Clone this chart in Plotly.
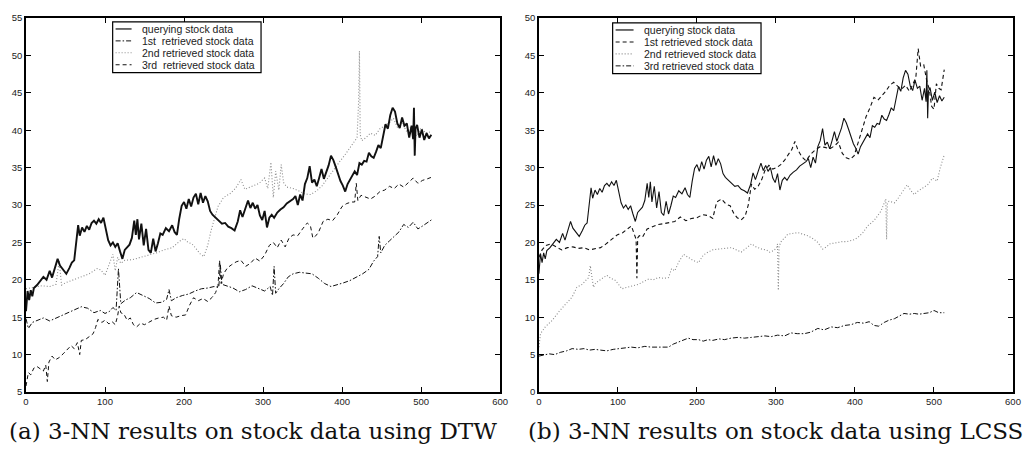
import plotly.graph_objects as go

# ---------------- data ----------------
# querying stock series (same series in both panels)
query_x = [0, 2, 4, 6, 8, 10, 14, 18, 22, 26, 30, 33, 36, 40, 43, 47, 51, 55, 58, 61,
           64, 66, 68, 71, 74, 77, 80, 83, 86, 89, 92, 95, 98, 101, 104, 107, 110, 113, 116, 119,
           122, 125, 128, 131, 134, 137, 139, 141, 143, 146, 149, 152, 155, 158, 161, 164, 167, 170, 173, 177,
           181, 185, 188, 191, 194, 197, 200, 203, 206, 209, 212, 215, 218, 221, 224, 227, 230, 233, 236, 240,
           244, 248, 252, 256, 260, 264, 268, 271, 274, 278, 281, 284, 287, 290, 293, 296, 299, 302, 305, 308,
           311, 314, 318, 322, 326, 330, 334, 338, 341, 344, 347, 350, 353, 356, 359, 362, 365, 368, 371, 374,
           377, 380, 383, 386, 389, 392, 395, 398, 401, 404, 407, 410, 413, 416, 419, 422, 425, 428, 431, 434,
           437, 440, 443, 446, 449, 452, 455, 458, 461, 464, 467, 470, 473, 476, 479, 482, 485, 488, 490, 491,
           492, 493, 495, 498, 501, 504, 507, 510, 513]
query_y = [15.8, 18.5, 17.3, 18.6, 17.8, 18.9, 19.3, 19.8, 20.4, 20.0, 21.2, 20.3, 21.5, 22.8, 21.9, 21.3, 20.8, 21.6, 22.3, 22.6,
           25.5, 27.3, 25.9, 27.0, 26.4, 27.2, 26.7, 27.6, 27.9, 27.5, 28.1, 27.6, 28.3, 26.9, 25.3, 24.6, 25.0, 24.4, 24.9, 23.8,
           22.8, 24.0, 24.3, 24.7, 25.6, 27.9, 26.0, 28.1, 25.4, 27.5, 24.6, 26.8, 24.0, 23.6, 25.5, 23.8, 24.9, 26.2, 26.0, 26.9,
           26.5, 27.3, 26.4, 26.0, 28.2, 29.9, 30.4, 29.5, 30.8, 29.8, 31.0, 31.5, 30.1, 31.6, 30.3, 31.2, 30.5, 29.2, 28.7, 28.3,
           27.9, 27.5, 27.6, 27.1, 26.9, 26.6, 27.8, 29.3, 28.4, 29.8, 30.6, 29.6, 30.3, 29.5, 30.0, 28.6, 28.0, 29.2, 27.0, 28.3,
           28.7, 28.3, 29.0, 29.4, 29.7, 30.2, 30.5, 30.8, 31.2, 30.0, 31.4, 30.6, 32.8, 33.6, 35.2, 33.0, 33.4, 32.5, 33.6, 34.8,
           33.5, 34.4, 35.3, 36.6, 36.0, 35.1, 34.0, 33.2, 32.6, 31.8, 32.8, 33.4, 33.8, 34.5, 34.0, 35.6, 35.4, 35.9, 35.8, 37.0,
           36.5, 36.3, 37.1, 38.0, 37.6, 39.0, 40.8, 40.2, 42.0, 43.0, 42.5, 40.9, 40.3, 41.7, 40.6, 40.9, 39.0, 40.6, 38.8, 43.0,
           36.6, 40.2, 40.7, 39.0, 40.1, 38.7, 39.6, 38.9, 39.4]

# DTW panel: 1st retrieved (dash-dot)
dtw_first_x = [0, 3, 8, 15, 22, 30, 40, 50, 60, 70, 78, 86, 94, 100, 106, 110, 114, 117, 120, 126,
               132, 140, 148, 156, 164, 172, 178, 181, 184, 190, 198, 206, 214, 222, 230, 238, 244, 246, 248, 254,
               262, 270, 278, 286, 294, 302, 309, 312, 314, 316, 320, 326, 332, 338, 346, 354, 362, 370, 378, 386,
               394, 402, 410, 418, 426, 434, 440, 445, 447, 449, 454, 460, 466, 472, 478, 484, 490, 496, 502, 508, 513]
dtw_first_y = [14.8, 13.5, 14.3, 14.6, 14.9, 14.5, 15.0, 15.4, 16.0, 16.4, 16.2, 15.6, 15.9, 15.5, 15.8, 16.3, 15.9, 21.5, 16.8, 17.3,
               17.6, 18.3, 17.9, 17.5, 16.9, 17.0, 17.4, 18.7, 17.2, 17.6, 17.9, 18.1, 18.5, 18.8, 18.9, 19.1, 19.0, 22.0, 19.4, 19.2,
               18.9, 18.4, 18.7, 19.2, 18.9, 18.5, 19.1, 17.9, 21.8, 18.2, 18.8, 19.5, 20.4, 20.8, 21.0, 20.9, 20.8, 20.2, 19.5, 19.1,
               19.3, 19.6, 19.9, 20.3, 20.8, 21.4, 22.5, 23.1, 25.8, 23.6, 24.6, 25.2, 25.8, 26.4, 27.4, 27.0, 27.7, 26.8, 27.2, 27.6, 28.0]

# DTW panel: 2nd retrieved (dotted)
dtw_second_x = [0, 10, 20, 30, 38, 42, 45, 50, 60, 70, 80, 90, 95, 100, 105, 110, 113, 116, 120, 125,
                135, 145, 155, 165, 175, 185, 195, 200, 205, 210, 215, 220, 225, 230, 234, 238, 243, 250, 258, 265,
                272, 277, 282, 288, 295, 302, 306, 310, 313, 316, 320, 323, 326, 330, 338, 345, 352, 360, 368, 375,
                383, 390, 397, 403, 410, 415, 419, 421, 422, 423, 425, 430, 436, 442, 448, 454, 460, 465, 470, 476,
                482, 488, 494, 500, 506, 513]
dtw_second_y = [18.8, 19.0, 19.2, 19.1, 19.4, 22.5, 19.3, 19.6, 20.0, 20.4, 20.8, 21.5, 21.3, 20.6, 22.0, 23.4, 21.2, 23.0, 22.2, 22.6,
                22.7, 23.0, 23.2, 23.6, 24.0, 24.3, 25.2, 25.5, 25.0, 24.8, 24.2, 23.5, 23.1, 24.6, 26.5, 28.0, 29.8, 31.0, 31.5, 32.2,
                33.4, 32.1, 32.3, 32.6, 32.9, 33.6, 32.2, 35.7, 31.0, 34.5, 32.0, 35.4, 33.0, 32.4, 32.2, 31.9, 31.5, 31.4, 31.9, 32.6,
                33.8, 34.8, 35.8, 36.6, 37.6, 38.4, 39.0, 44.0, 50.6, 39.4, 38.6, 39.0, 39.6, 39.3, 40.2, 40.6, 41.0, 41.6, 40.4, 40.9,
                39.8, 40.5, 39.2, 40.3, 39.6, 39.8]

# DTW panel: 3rd retrieved (dashed)
dtw_third_x = [0, 3, 6, 10, 14, 18, 22, 25, 27, 29, 33, 37, 42, 47, 52, 57, 61, 65, 68, 70,
               75, 80, 85, 88, 91, 96, 100, 105, 109, 113, 116, 118, 120, 124, 128, 132, 136, 140, 145, 150,
               156, 162, 168, 174, 178, 181, 184, 190, 196, 202, 207, 212, 218, 224, 230, 236, 240, 243, 245, 247,
               250, 255, 260, 266, 272, 278, 284, 290, 296, 302, 308, 313, 318, 323, 328, 333, 338, 344, 350, 356,
               360, 363, 366, 370, 376, 382, 388, 394, 400, 406, 412, 416, 418, 420, 424, 430, 436, 442, 448, 454,
               460, 466, 472, 478, 484, 490, 496, 502, 508, 513]
dtw_third_y = [5.8, 7.6, 7.3, 8.2, 8.4, 8.1, 7.8, 8.6, 6.4, 9.0, 9.8, 9.3, 9.6, 10.1, 10.6, 11.2, 10.8, 11.6, 10.0, 11.9,
               12.0, 12.4, 12.8, 13.6, 14.7, 14.3, 14.6, 14.1, 14.4, 14.0, 15.2, 16.5, 15.6, 15.4, 14.6, 14.9, 14.0, 13.7, 14.2, 14.0,
               14.4, 14.7, 14.9, 15.0, 14.6, 16.5, 15.2, 15.0, 15.2, 15.3, 16.6, 17.6, 17.2, 17.5, 17.1, 17.7, 18.3, 19.2, 22.6, 19.5,
               20.8, 21.6, 22.0, 22.4, 22.6, 21.8, 22.2, 22.9, 22.5, 23.3, 24.6, 25.0, 24.3, 25.3, 24.4, 25.6, 26.0, 25.9, 26.8, 27.6,
               27.2, 25.6, 25.8, 26.3, 27.8, 28.1, 27.9, 28.7, 29.8, 30.2, 30.4, 30.4, 32.9, 30.6, 31.3, 31.0, 30.8, 31.2, 31.8, 32.0,
               32.5, 32.2, 32.8, 32.4, 33.0, 33.6, 32.9, 33.3, 33.5, 33.7]

# LCSS panel: 1st retrieved (dashed)
lcss_first_x = [0, 4, 9, 15, 22, 29, 36, 43, 50, 57, 64, 71, 78, 85, 92, 99, 106, 112, 117, 121,
                123, 124, 125, 127, 131, 137, 144, 151, 158, 165, 172, 179, 186, 193, 200, 207, 214, 220, 225, 231,
                237, 242, 247, 251, 256, 261, 265, 269, 273, 277, 282, 286, 291, 296, 301, 306, 311, 316, 320, 324,
                328, 333, 338, 344, 350, 356, 362, 368, 374, 379, 384, 389, 394, 399, 404, 409, 414, 419, 424, 429,
                434, 439, 444, 449, 454, 459, 464, 469, 473, 477, 480, 483, 487, 491, 494, 497, 500, 503, 506, 509, 513]
lcss_first_y = [18.0, 19.0, 19.6, 19.8, 19.4, 19.0, 19.3, 19.4, 19.2, 19.3, 19.0, 19.1, 19.3, 19.8, 20.4, 21.0, 21.3, 21.8, 22.2, 21.0,
                20.4, 15.2, 20.6, 20.9, 20.7, 21.8, 22.1, 22.4, 22.5, 22.6, 22.8, 23.4, 22.9, 23.2, 23.3, 23.7, 23.6, 23.2, 25.4, 25.8,
                25.1, 24.9, 23.8, 23.3, 23.0, 23.5, 25.0, 27.8, 27.1, 27.4, 28.4, 29.6, 30.3, 29.8, 30.0, 30.4, 31.0, 31.8, 32.4, 33.5,
                32.3, 31.4, 30.9, 31.8, 32.4, 32.8, 32.7, 32.5, 32.9, 33.4, 31.9, 31.3, 31.1, 31.6, 33.4, 35.2, 36.8, 38.0, 39.4, 39.0,
                39.6, 40.2, 41.0, 41.4, 40.9, 40.5, 41.0, 40.2, 41.1, 42.0, 45.9, 43.6, 43.8, 41.5, 40.5, 38.2, 37.8, 41.2, 40.6, 40.4, 43.1]

# LCSS panel: 2nd retrieved (dotted)
lcss_second_x = [0, 2, 8, 17, 25, 34, 42, 48, 55, 60, 63, 65, 67, 69, 72, 76, 81, 86, 91, 97,
                 105, 113, 120, 126, 133, 139, 145, 151, 158, 164, 168, 172, 177, 183, 189, 195, 202, 208, 214, 220,
                 227, 235, 244, 250, 256, 262, 269, 275, 282, 288, 292, 297, 301, 302, 303, 304, 307, 311, 315, 321,
                 328, 334, 340, 347, 353, 359, 364, 368, 373, 378, 384, 390, 395, 400, 405, 410, 416, 420, 424, 429,
                 433, 436, 439, 440, 441, 443, 446, 450, 454, 458, 462, 466, 471, 475, 479, 483, 487, 492, 498, 504,
                 508, 511, 513]
lcss_second_y = [6.0, 7.8, 8.7, 9.6, 10.7, 11.8, 12.7, 14.0, 14.4, 15.0, 15.3, 16.9, 15.2, 14.0, 14.6, 14.9, 15.3, 15.6, 15.2, 14.9,
                 13.8, 14.0, 14.2, 14.4, 14.8, 15.1, 15.0, 15.3, 15.2, 15.3, 16.5, 16.2, 17.4, 18.4, 18.0, 17.6, 17.3, 18.3, 18.7, 19.0,
                 19.1, 19.2, 19.3, 19.0, 18.7, 19.2, 19.8, 19.4, 19.1, 19.0, 18.7, 18.9, 19.3, 19.8, 13.6, 19.5, 20.2, 20.6, 21.1, 21.2,
                 21.3, 21.1, 20.9, 20.5, 20.0, 19.1, 19.4, 19.8, 19.9, 20.0, 20.1, 20.1, 20.2, 20.4, 20.8, 21.3, 22.2, 22.6, 22.9, 23.6,
                 24.2, 25.0, 25.8, 20.4, 25.2, 25.5, 25.4, 25.3, 25.8, 26.4, 27.0, 27.7, 26.9, 26.4, 26.8, 27.1, 27.3, 27.7, 28.6, 28.2,
                 30.0, 31.0, 31.7]

# LCSS panel: 3rd retrieved (dash-dot)
lcss_third_x = [0, 6, 13, 20, 27, 35, 42, 50, 57, 64, 71, 78, 86, 94, 101, 109, 117, 125, 134, 142,
                151, 158, 164, 170, 177, 183, 189, 195, 202, 208, 214, 220, 228, 235, 243, 252, 260, 269, 277, 286,
                294, 302, 311, 319, 327, 336, 344, 353, 361, 370, 378, 387, 395, 403, 411, 418, 424, 430, 437, 443,
                450, 456, 462, 469, 475, 481, 488, 494, 500, 506, 513]
lcss_third_y = [4.8, 4.9, 5.1, 5.0, 5.3, 5.5, 5.8, 5.7, 5.8, 5.6, 5.7, 5.6, 5.5, 5.7, 5.8, 5.9, 6.0, 5.9, 6.1, 6.0,
                6.0, 6.1, 6.0, 6.4, 6.7, 7.0, 7.2, 7.0, 7.0, 6.8, 7.0, 6.9, 7.1, 7.0, 7.2, 7.3, 7.2, 7.3, 7.4, 7.5,
                7.4, 7.6, 7.5, 7.9, 7.8, 7.8, 8.0, 8.5, 8.3, 8.7, 8.6, 8.9, 9.0, 9.3, 9.2, 9.4, 8.9, 8.8, 9.3, 9.6,
                9.8, 10.2, 10.5, 10.4, 10.5, 10.4, 10.5, 10.6, 10.9, 10.6, 10.6]

x_ticks = [0, 100, 200, 300, 400, 500, 600]
dtw_y_ticks = [5, 10, 15, 20, 25, 30, 35, 40, 45, 50, 55]
lcss_y_ticks = [0, 5, 10, 15, 20, 25, 30, 35, 40, 45, 50]

dtw_labels = ["querying stock data", "1st\u00a0 retrieved stock data",
              "2nd retrieved stock data", "3rd\u00a0 retrieved stock data"]
lcss_labels = ["querying stock data", "1st retrieved stock data",
               "2nd retrieved stock data", "3rd retrieved stock data"]
captions = ["(a) 3-NN results on stock data using DTW",
            "(b) 3-NN results on stock data using LCSS"]

# ---------------- styles ----------------
SOLID = "solid"
DASHED = "4px,3px"
DASHDOT = "5px,2px,1.5px,2px"
DOTTED = "1px,2px"
GRAY = "#8a8a8a"
INK = "#111111"

W, H = 1033, 452
M_L, M_R, M_T, M_B = 25, 17, 16, 60

fig = go.Figure()


def add_line(xs, ys, dash, color, width, xa, ya):
    fig.add_trace(go.Scatter(x=xs, y=ys, mode="lines", xaxis=xa, yaxis=ya,
                             line=dict(color=color, width=width, dash=dash),
                             showlegend=False, hoverinfo="skip"))


# DTW panel
add_line(dtw_second_x, dtw_second_y, DOTTED, GRAY, 1.1, "x", "y")
add_line(dtw_first_x, dtw_first_y, DASHDOT, INK, 1.0, "x", "y")
add_line(dtw_third_x, dtw_third_y, DASHED, INK, 1.0, "x", "y")
add_line(query_x, query_y, SOLID, INK, 1.9, "x", "y")

# LCSS panel
add_line(lcss_second_x, lcss_second_y, DOTTED, GRAY, 1.1, "x2", "y2")
add_line(lcss_third_x, lcss_third_y, DASHDOT, INK, 1.0, "x2", "y2")
add_line(lcss_first_x, lcss_first_y, DASHED, INK, 1.1, "x2", "y2")
add_line(query_x, query_y, SOLID, INK, 1.1, "x2", "y2")

tick_font = dict(family="Liberation Sans, Arial, sans-serif", size=9.5, color="#222222")
axis_common = dict(showgrid=False, zeroline=False, showline=True, linecolor="black",
                   linewidth=1.5, mirror="ticks", ticks="inside", ticklen=5,
                   tickwidth=1, tickcolor="black", tickfont=tick_font)

plot_w = W - M_L - M_R
panel_w = 476 / plot_w
fig.update_layout(
    width=W, height=H,
    margin=dict(l=M_L, r=M_R, t=M_T, b=M_B),
    paper_bgcolor="white", plot_bgcolor="white",
    xaxis=dict(domain=[0, panel_w], range=[0, 600], tickvals=x_ticks, anchor="y", **axis_common),
    yaxis=dict(domain=[0, 1], range=[5, 55], tickvals=dtw_y_ticks, anchor="x", **axis_common),
    xaxis2=dict(domain=[1 - panel_w, 1], range=[0, 600], tickvals=x_ticks, anchor="y2", **axis_common),
    yaxis2=dict(domain=[0, 1], range=[0, 50], tickvals=lcss_y_ticks, anchor="x2", **axis_common),
)


# boxed legends drawn inside each panel
def draw_legend(xa, ya, box, sample, text_x, rows, labels, styles):
    xr, yr = f"{xa} domain", f"{ya} domain"
    fig.add_shape(type="rect", xref=xr, yref=yr, x0=box[0], x1=box[1], y0=box[2], y1=box[3],
                  line=dict(color="black", width=1.2), fillcolor="white", layer="above")
    for yy, lab, (dash, color, width) in zip(rows, labels, styles):
        fig.add_shape(type="line", xref=xr, yref=yr, x0=sample[0], x1=sample[1], y0=yy, y1=yy,
                      line=dict(color=color, width=width, dash=dash), layer="above")
        fig.add_annotation(xref=xr, yref=yr, x=text_x, y=yy, text=lab, showarrow=False,
                           xanchor="left", yanchor="middle",
                           font=dict(family="Liberation Sans, Arial, sans-serif", size=10.5,
                                     color="#222222"))


draw_legend("x", "y", (0.1828, 0.4958, 0.8537, 0.9894), (0.189, 0.2227), 0.2395,
            [0.9707, 0.9388, 0.9069, 0.875], dtw_labels,
            [(SOLID, INK, 1.2), (DASHDOT, INK, 1.0), (DOTTED, GRAY, 1.1), (DASHED, INK, 1.0)])
draw_legend("x2", "y2", (0.1555, 0.4685, 0.8511, 0.9867), (0.1618, 0.1996), 0.2164,
            [0.968, 0.936, 0.904, 0.872], lcss_labels,
            [(SOLID, INK, 1.2), (DASHED, INK, 1.1), (DOTTED, GRAY, 1.1), (DASHDOT, INK, 1.0)])

# sub-figure captions
for cx, cap in zip([(253 - M_L) / plot_w, (777.5 - M_L) / plot_w], captions):
    fig.add_annotation(xref="paper", yref="paper", x=cx, y=(392 - 431) / 376, text=cap,
                       showarrow=False, xanchor="center", yanchor="middle",
                       font=dict(family="DejaVu Serif, serif", size=23, color="#111111"))

fig.write_html("out.html")
